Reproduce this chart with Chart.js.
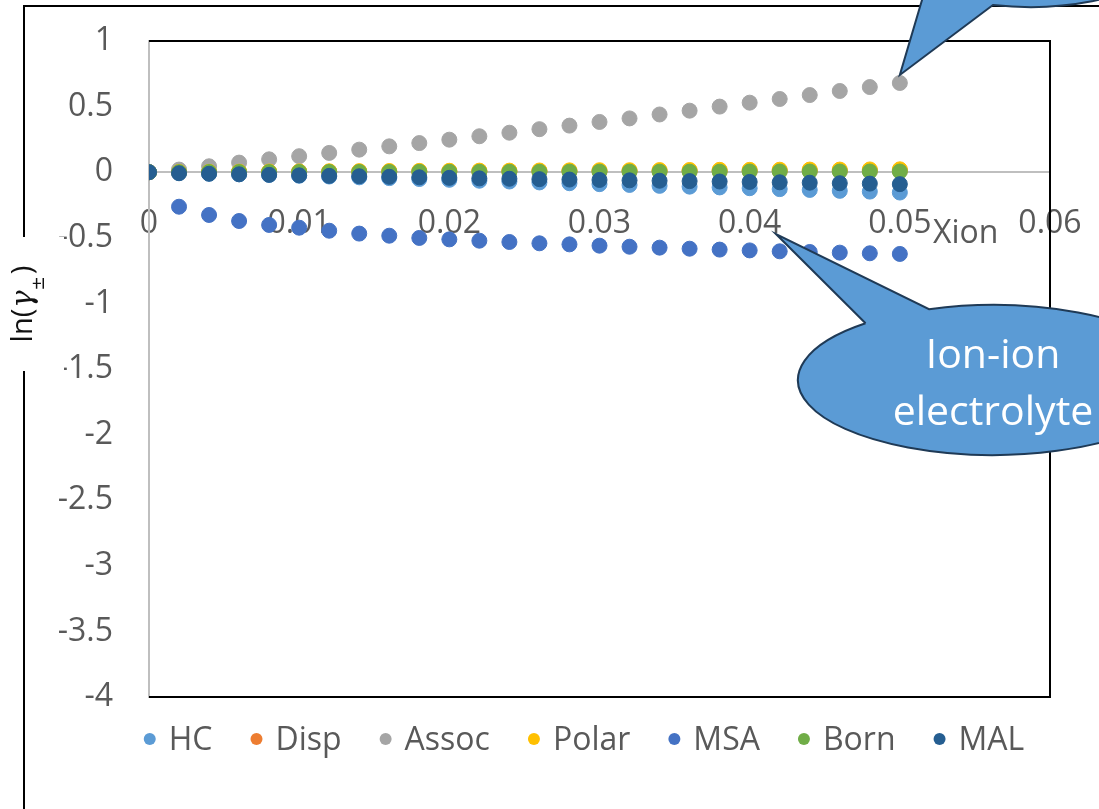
<!DOCTYPE html>
<html>
<head>
<meta charset="utf-8">
<script src="https://cdn.jsdelivr.net/npm/chart.js@4.4.1/dist/chart.umd.min.js"></script>
<style>
  html, body { margin: 0; padding: 0; background: #fff; overflow: hidden; }
  canvas { display: block; }
</style>
</head>
<body>
<canvas id="chart" width="1099" height="809"></canvas>
<script>
// Ion mole fraction
const xion = [0, 0.002, 0.004, 0.006, 0.008, 0.010, 0.012, 0.014, 0.016, 0.018, 0.020, 0.022, 0.024,
              0.026, 0.028, 0.030, 0.032, 0.034, 0.036, 0.038, 0.040, 0.042, 0.044, 0.046, 0.048, 0.050];

// Contributions to ln(gamma±)
const hc = [0, -0.006, -0.011, -0.016, -0.021, -0.027, -0.033, -0.039, -0.045, -0.052, -0.058, -0.065, -0.071,
            -0.078, -0.084, -0.091, -0.097, -0.104, -0.110, -0.116, -0.122, -0.129, -0.135, -0.142, -0.148, -0.155];
const disp = [0, 0.001, 0.002, 0.002, 0.003, 0.004, 0.004, 0.005, 0.005, 0.006, 0.006, 0.007, 0.007,
              0.008, 0.008, 0.008, 0.009, 0.009, 0.010, 0.010, 0.010, 0.011, 0.011, 0.011, 0.012, 0.012];
const assoc = [0, 0.020, 0.045, 0.073, 0.098, 0.122, 0.147, 0.172, 0.197, 0.222, 0.248, 0.274, 0.301,
               0.328, 0.355, 0.383, 0.410, 0.440, 0.469, 0.500, 0.530, 0.558, 0.588, 0.619, 0.649, 0.680];
const polar = [0, 0.002, 0.003, 0.004, 0.005, 0.006, 0.007, 0.008, 0.009, 0.010, 0.011, 0.012, 0.012,
               0.013, 0.014, 0.015, 0.015, 0.016, 0.017, 0.018, 0.018, 0.019, 0.020, 0.020, 0.021, 0.022];
const msa = [0, -0.263, -0.326, -0.372, -0.402, -0.423, -0.446, -0.468, -0.484, -0.501, -0.512, -0.522, -0.532,
             -0.542, -0.550, -0.560, -0.568, -0.575, -0.583, -0.590, -0.596, -0.603, -0.608, -0.613, -0.618, -0.623];
const born = [0, 0, 0.001, 0.001, 0.001, 0.002, 0.002, 0.002, 0.002, 0.003, 0.003, 0.003, 0.003,
              0.003, 0.004, 0.004, 0.004, 0.004, 0.004, 0.004, 0.005, 0.005, 0.005, 0.005, 0.005, 0.005];
const mal = [0, -0.008, -0.012, -0.016, -0.020, -0.024, -0.028, -0.031, -0.035, -0.039, -0.043, -0.047, -0.050,
             -0.053, -0.056, -0.059, -0.062, -0.065, -0.068, -0.071, -0.074, -0.077, -0.080, -0.084, -0.087, -0.091];

const seriesNames = ['HC', 'Disp', 'Assoc', 'Polar', 'MSA', 'Born', 'MAL'];
const seriesValues = [hc, disp, assoc, polar, msa, born, mal];
const seriesColors = ['#5B9BD5', '#ED7D31', '#A5A5A5', '#FFC000', '#4472C4', '#70AD47', '#255E91'];

const xTickLabels = ['0', '0.01', '0.02', '0.03', '0.04', '0.05', '0.06'];
const yTickLabels = ['-4', '-3.5', '-3', '-2.5', '-2', '-1.5', '-1', '-0.5', '0', '0.5', '1'];

const xAxisTitle = 'Xion';
const calloutText = ['Ion-ion', 'electrolyte'];

const FONT = '"Open Sans", "Liberation Sans", sans-serif';
const TICK_COLOR = '#595959';
const AXIS_GRAY = '#BFBFBF';
const CALLOUT_FILL = '#5B9BD5';
const CALLOUT_EDGE = '#1F3A56';

const datasets = seriesNames.map((name, i) => ({
  label: name,
  data: xion.map((x, k) => ({ x: x, y: seriesValues[i][k] })),
  backgroundColor: seriesColors[i],
  borderColor: seriesColors[i],
  pointRadius: 7.5,
  pointBorderWidth: 1,
  pointHoverRadius: 7.5,
  showLine: false,
  // later series are painted over earlier ones
  order: seriesNames.length - i
}));

function drawYTitle(ctx) {
  ctx.save();
  ctx.translate(32, 304);
  ctx.rotate(-Math.PI / 2);
  ctx.fillStyle = '#111';
  ctx.textBaseline = 'alphabetic';
  const parts = [
    { t: 'ln(', f: '29px ' + FONT, dy: 0, gap: 1 },
    { t: 'γ', f: 'italic 29px "DejaVu Serif", serif', dy: 0, gap: 0 },
    { t: '±', f: '17px "DejaVu Sans", sans-serif', dy: 12, gap: 2 },
    { t: ')', f: '29px ' + FONT, dy: 0, gap: 0 }
  ];
  let total = 0;
  parts.forEach(p => { ctx.font = p.f; p.w = ctx.measureText(p.t).width; total += p.w + p.gap; });
  let x = -total / 2;
  parts.forEach(p => { ctx.font = p.f; ctx.fillText(p.t, x, p.dy); x += p.w + p.gap; });
  ctx.restore();
}

function drawLegend(ctx) {
  ctx.save();
  ctx.font = '32px ' + FONT;
  const r = 6, textOffset = 19, itemGap = 44, centerX = 584, markerY = 739, baseY = 750;
  const widths = seriesNames.map(n => ctx.measureText(n).width);
  let total = r;
  widths.forEach((w, i) => { total += textOffset + w + (i < widths.length - 1 ? itemGap : 0); });
  let cx = centerX - total / 2 + r;
  ctx.textBaseline = 'alphabetic';
  ctx.textAlign = 'left';
  seriesNames.forEach((name, i) => {
    ctx.fillStyle = seriesColors[i];
    ctx.beginPath();
    ctx.arc(cx, markerY, r, 0, Math.PI * 2);
    ctx.fill();
    ctx.fillStyle = TICK_COLOR;
    ctx.fillText(name, cx + textOffset, baseY);
    cx += textOffset + widths[i] + itemGap;
  });
  ctx.restore();
}

function strokeCallout(ctx) {
  ctx.fillStyle = CALLOUT_FILL;
  ctx.fill();
  ctx.strokeStyle = CALLOUT_EDGE;
  ctx.lineWidth = 2;
  ctx.lineJoin = 'miter';
  ctx.stroke();
}

function drawCallouts(chart) {
  const ctx = chart.ctx;
  const xs = chart.scales.x, ys = chart.scales.y;
  ctx.save();

  // balloon pointing at the last association point (body above the frame)
  const last = xion.length - 1;
  const tip1 = { x: xs.getPixelForValue(xion[last]), y: ys.getPixelForValue(assoc[last]) - 8 };
  {
    const cx = 1030, cy = -40, rx = 130, ry = 47;
    const tL = Math.atan2((-12 - cy) / ry, (925.5 - cx) / rx);
    const tR = Math.atan2((5 - cy) / ry, (993 - cx) / rx);
    ctx.beginPath();
    ctx.moveTo(cx + rx * Math.cos(tL), cy + ry * Math.sin(tL));
    ctx.lineTo(tip1.x, tip1.y);
    ctx.lineTo(cx + rx * Math.cos(tR), cy + ry * Math.sin(tR));
    ctx.ellipse(cx, cy, rx, ry, 0, tR, tL, true);
    ctx.closePath();
    strokeCallout(ctx);
  }

  // "Ion-ion electrolyte" balloon
  const tip2 = { x: xs.getPixelForValue(0.04175), y: ys.getPixelForValue(-0.471) };
  {
    const cx = 993, cy = 380, rx = 195, ry = 75;
    const tA = Math.atan2((323 - cy) / ry, (865 - cx) / rx);
    const tB = Math.atan2((308 - cy) / ry, (928 - cx) / rx);
    ctx.beginPath();
    ctx.moveTo(cx + rx * Math.cos(tA), cy + ry * Math.sin(tA));
    ctx.lineTo(tip2.x, tip2.y);
    ctx.lineTo(cx + rx * Math.cos(tB), cy + ry * Math.sin(tB));
    ctx.ellipse(cx, cy, rx, ry, 0, tB, tA + Math.PI * 2, false);
    ctx.closePath();
    strokeCallout(ctx);

    ctx.fillStyle = '#FFFFFF';
    ctx.font = '41px ' + FONT;
    ctx.textAlign = 'center';
    ctx.textBaseline = 'alphabetic';
    ctx.fillText(calloutText[0], cx, 368);
    ctx.fillText(calloutText[1], cx, 425);
  }
  ctx.restore();
}

const decorations = {
  id: 'decorations',
  beforeDatasetsDraw(chart) {
    const { ctx, chartArea: a } = chart;
    ctx.save();
    ctx.strokeStyle = '#000';
    ctx.lineWidth = 2;
    ctx.beginPath();
    ctx.moveTo(a.left, a.top);
    ctx.lineTo(a.right, a.top);
    ctx.lineTo(a.right, a.bottom);
    ctx.lineTo(a.left, a.bottom);
    ctx.stroke();
    ctx.restore();
  },
  afterDraw(chart) {
    const ctx = chart.ctx;
    ctx.save();
    // outer chart frame
    ctx.strokeStyle = '#000';
    ctx.lineWidth = 2;
    ctx.strokeRect(24, 6, 1300, 1000);
    // title box over the frame edge
    ctx.fillStyle = '#fff';
    ctx.fillRect(8, 237, 56, 134);
    ctx.restore();

    drawYTitle(ctx);

    ctx.save();
    ctx.fillStyle = TICK_COLOR;
    ctx.font = '32px ' + FONT;
    ctx.textAlign = 'left';
    ctx.textBaseline = 'alphabetic';
    ctx.fillText(xAxisTitle, 933, 243);
    ctx.restore();

    drawLegend(ctx);
    drawCallouts(chart);
  }
};

new Chart(document.getElementById('chart'), {
  type: 'scatter',
  data: { datasets: datasets },
  options: {
    responsive: false,
    animation: false,
    devicePixelRatio: 1,
    layout: { padding: { left: 0, top: 41, right: 49, bottom: 112 } },
    plugins: { legend: { display: false }, tooltip: { enabled: false } },
    scales: {
      x: {
        type: 'linear',
        position: { y: 0 },
        min: 0, max: 0.06,
        grid: { display: false, drawTicks: false },
        border: { display: true, color: AXIS_GRAY, width: 2 },
        ticks: {
          stepSize: 0.01,
          autoSkip: false,
          maxRotation: 0,
          padding: 32,
          color: TICK_COLOR,
          font: { family: FONT, size: 32 },
          callback: (v) => xTickLabels[Math.round(v / 0.01)] ?? ''
        },
        afterFit(scale) { scale.paddingLeft = 0; scale.paddingRight = 0; }
      },
      y: {
        type: 'linear',
        position: 'left',
        min: -4, max: 1,
        grid: { display: false, drawTicks: false },
        border: { display: true, color: AXIS_GRAY, width: 2 },
        ticks: {
          stepSize: 0.5,
          autoSkip: false,
          padding: 36,
          color: TICK_COLOR,
          font: { family: FONT, size: 32 },
          callback: (v) => yTickLabels[Math.round((v + 4) / 0.5)] ?? ''
        },
        afterFit(scale) { scale.width = 149; scale.paddingTop = 0; scale.paddingBottom = 0; }
      }
    }
  },
  plugins: [decorations]
});
</script>
</body>
</html>
